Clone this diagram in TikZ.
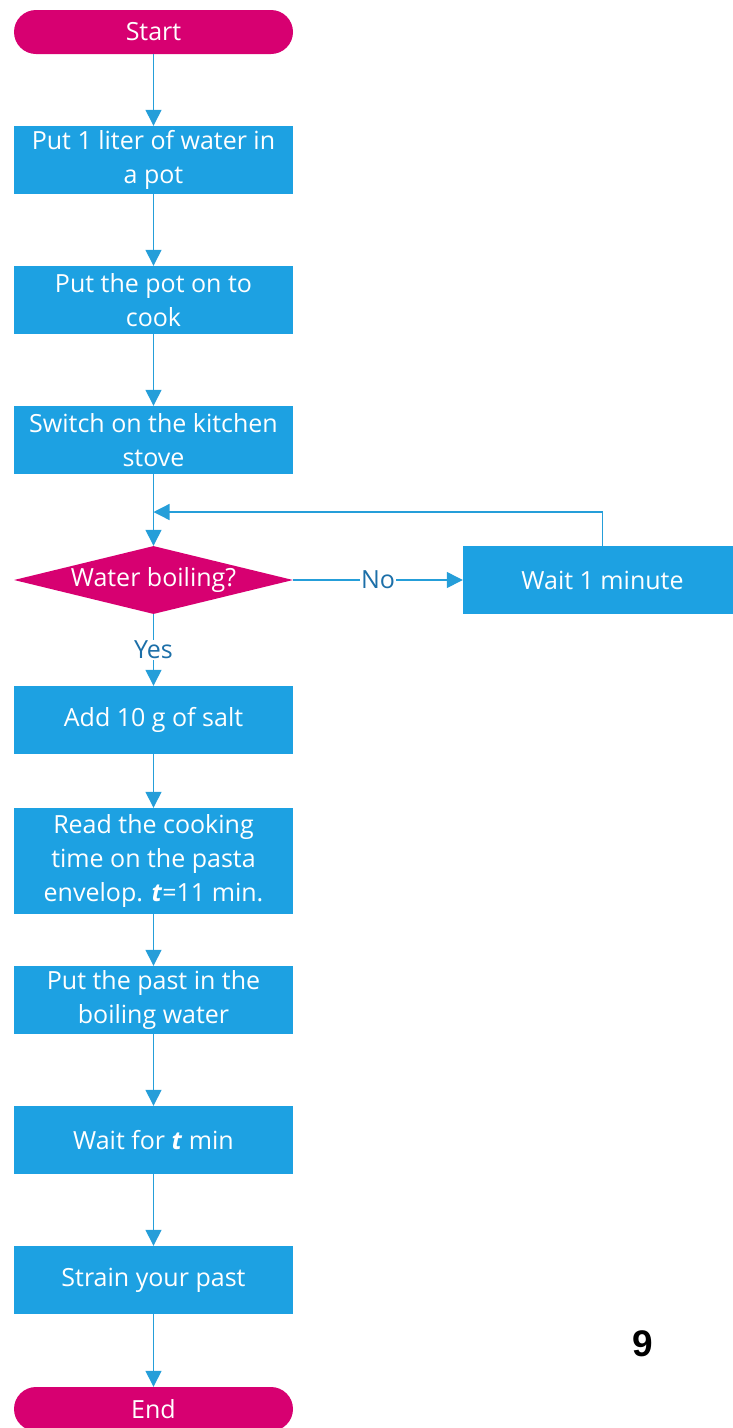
\documentclass[tikz,border=0pt]{standalone}
\usepackage{fontspec}
\setmainfont{Open Sans}
\newfontfamily\numfont{Liberation Sans}
\usetikzlibrary{shapes.geometric,arrows.meta}
\definecolor{boxblue}{HTML}{1DA1E2}
\definecolor{termpink}{HTML}{D70071}
\definecolor{lineblue}{HTML}{259ED9}
\definecolor{labelblue}{HTML}{1C6FA8}
\begin{document}
\begin{tikzpicture}[x=1pt,y=-1pt,
  txt/.style={font=\fontsize{25}{34}\selectfont},
  stepbox/.style={rectangle, fill=boxblue, text=white, minimum width=279pt,
    minimum height=68pt, inner sep=0pt, align=center, txt},
  term/.style={rectangle, rounded corners=22pt, fill=termpink, text=white,
    minimum width=279pt, minimum height=44pt, inner sep=0pt, txt},
  decision/.style={diamond, fill=termpink, text=white, aspect=4.1,
    minimum width=279pt, minimum height=68pt, inner sep=0pt, txt},
  flow/.style={draw=lineblue, line width=1.3pt,
    -{Triangle[width=16pt,length=16pt]}},
  lbl/.style={fill=white, text=labelblue, inner sep=1pt, txt}]
\clip (0,0) rectangle (733,1428);

\node[term] (start) at (153.5,32) {Start};
\node[stepbox] (water) at (153.5,160) {Put 1 liter of water in\\a pot};
\node[stepbox] (pot) at (153.5,300) {Put the pot on to\\cook};
\node[stepbox] (stove) at (153.5,440) {Switch on the kitchen\\stove};
\node[decision] (boil) at (153.5,580) {Water boiling?};
\node[stepbox] (wait) at (602.5,580) {Wait 1 minute};
\node[stepbox] (salt) at (153.5,720) {Add 10 g of salt};
\node[stepbox, minimum height=106pt] (read) at (153.5,861)
  {Read the cooking\\time on the pasta\\envelop. \textbf{\textit{t}}=11 min.};
\node[stepbox] (pasta) at (153.5,1000) {Put the past in the\\boiling water};
\node[stepbox] (waitt) at (153.5,1140) {Wait for \textbf{\textit{t}} min};
\node[stepbox] (strain) at (153.5,1280) {Strain your past};
\node[term] (end) at (153.5,1409) {End};
\node[font=\numfont\bfseries\fontsize{37}{40}\selectfont] (page) at (643,1344) {9};

\coordinate (merge) at (153.5,512);

\draw[flow] (start) -- (water);
\draw[flow] (water) -- (pot);
\draw[flow] (pot) -- (stove);
\draw[flow] (stove) -- (boil);
\draw[flow] (boil) -- node[lbl] {No} (wait);
\draw[flow] (wait.north) |- (merge);
\draw[flow] (boil) -- node[lbl] {Yes} (salt);
\draw[flow] (salt) -- (read);
\draw[flow] (read) -- (pasta);
\draw[flow] (pasta) -- (waitt);
\draw[flow] (waitt) -- (strain);
\draw[flow] (strain) -- (end);
\end{tikzpicture}
\end{document}
